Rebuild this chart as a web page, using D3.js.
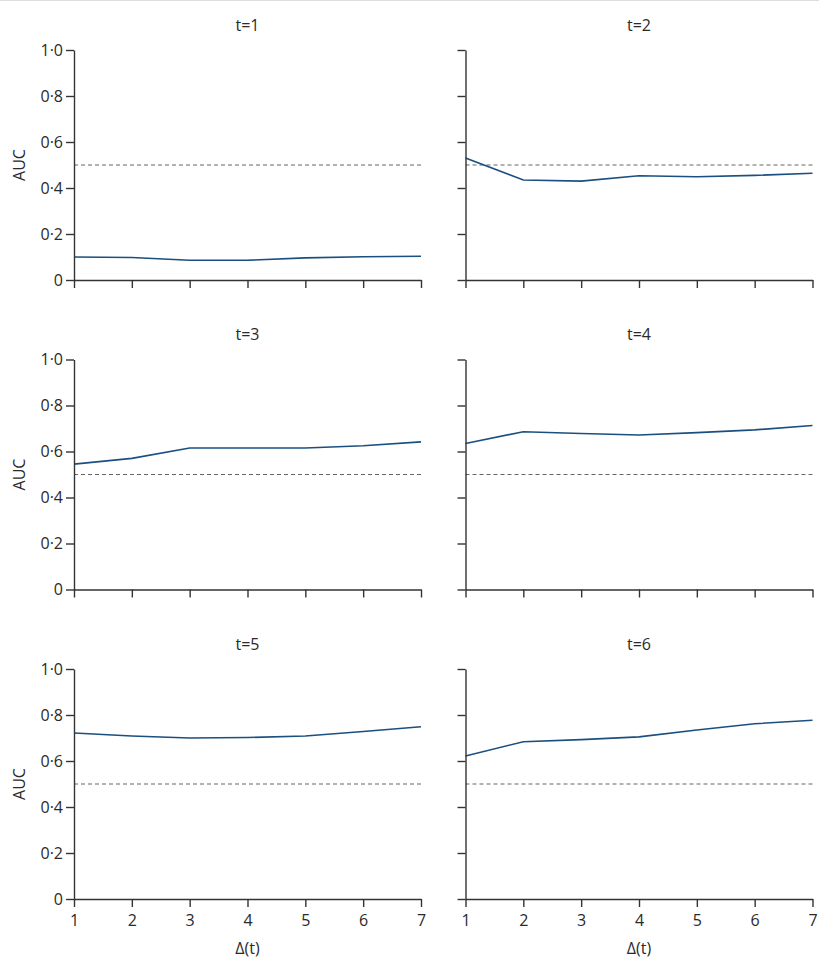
<!DOCTYPE html>
<html>
<head>
<meta charset="utf-8">
<script src="https://cdn.jsdelivr.net/npm/d3@7"></script>
<style>
  body { margin: 0; background: #fff; }
  text { font-family: "Open Sans", "DejaVu Sans", sans-serif; fill: #2a2a2a; }
</style>
</head>
<body>
<svg id="chart" width="819" height="967"></svg>
<script>
// delta t values on x axis
const deltas = [1, 2, 3, 4, 5, 6, 7];
const panelTitles = ["t=1", "t=2", "t=3", "t=4", "t=5", "t=6"];
const yTicks = [0, 0.2, 0.4, 0.6, 0.8, 1.0];
const refLine = 0.5;

// AUC per panel
const auc1 = [0.100, 0.098, 0.086, 0.086, 0.096, 0.101, 0.103];
const auc2 = [0.530, 0.435, 0.430, 0.453, 0.449, 0.455, 0.464];
const auc3 = [0.545, 0.570, 0.615, 0.615, 0.615, 0.625, 0.642];
const auc4 = [0.635, 0.686, 0.678, 0.672, 0.682, 0.694, 0.713];
const auc5 = [0.722, 0.709, 0.700, 0.702, 0.709, 0.728, 0.749];
const auc6 = [0.622, 0.684, 0.693, 0.705, 0.735, 0.762, 0.777];
const series = [auc1, auc2, auc3, auc4, auc5, auc6];

const svg = d3.select("#chart");

// thin grey rule at the very top
svg.append("line")
  .attr("x1", 0).attr("x2", 819).attr("y1", 0.5).attr("y2", 0.5)
  .attr("stroke", "#ddd");

const colLeft = [74, 465.5];
const panelW = 347;
const rowTop = [50, 359.5, 669];
const panelH = 230;
const fs = 16;

const fmt = function(d) {
  if (d === 0) return "0";
  return d.toFixed(1).replace(".", "\u00b7");
};

series.forEach(function(vals, i) {
  let col = i % 2, row = Math.floor(i / 2);
  let g = svg.append("g")
    .attr("transform", "translate(" + colLeft[col] + "," + rowTop[row] + ")");

  let x = d3.scaleLinear().domain([1, 7]).range([0, panelW]);
  let y = d3.scaleLinear().domain([0, 1]).range([panelH, 0]);

  // reference line at 0.5
  g.append("line")
    .attr("x1", x(1)).attr("x2", x(7))
    .attr("y1", y(refLine)).attr("y2", y(refLine))
    .attr("stroke", "#666")
    .attr("stroke-width", 1.1)
    .attr("stroke-dasharray", "4,3");

  let line = d3.line()
    .x(function(d, j) { return x(deltas[j]); })
    .y(function(d) { return y(d); });

  g.append("path")
    .datum(vals)
    .attr("d", line)
    .attr("fill", "none")
    .attr("stroke", "#1b4f80")
    .attr("stroke-width", 1.6);

  let yAxis = d3.axisLeft(y).tickValues(yTicks).tickSize(8).tickSizeOuter(0)
    .tickFormat(col === 0 ? fmt : "");
  let ya = g.append("g").call(yAxis).attr("font-size", fs).attr("font-family", null);

  let xAxis = d3.axisBottom(x).tickValues(deltas).tickSize(8).tickSizeOuter(0)
    .tickFormat(row === 2 ? d3.format("d") : "");
  let xa = g.append("g").attr("transform", "translate(0," + panelH + ")").call(xAxis)
    .attr("font-size", fs).attr("font-family", null);

  [ya, xa].forEach(function(a) {
    a.selectAll("path, line").attr("stroke", "#333").attr("stroke-width", 1.4);
    a.selectAll("text").attr("fill", "#2a2a2a");
  });
  ya.selectAll("text").attr("x", -11);
  xa.selectAll("text").attr("y", 16);

  g.append("text")
    .attr("x", panelW / 2)
    .attr("y", -25)
    .attr("dy", "0.35em")
    .attr("text-anchor", "middle")
    .attr("font-size", fs)
    .text(panelTitles[i]);

  if (col === 0) {
    g.append("text")
      .attr("transform", "translate(" + (-55) + "," + (panelH / 2) + ")rotate(-90)")
      .attr("dy", "0.35em")
      .attr("text-anchor", "middle")
      .attr("font-size", fs)
      .text("AUC");
  }
  if (row === 2) {
    g.append("text")
      .attr("x", panelW / 2)
      .attr("y", panelH + 49)
      .attr("dy", "0.35em")
      .attr("text-anchor", "middle")
      .attr("font-size", fs)
      .text("\u0394(t)");
  }
});
</script>
</body>
</html>
